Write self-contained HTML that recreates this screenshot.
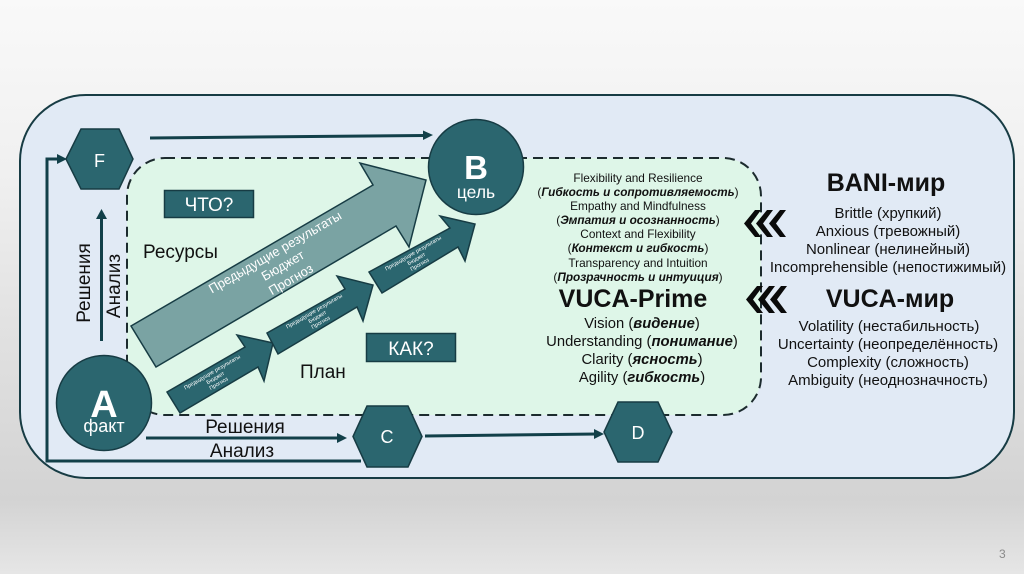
<!DOCTYPE html>
<html><head><meta charset="utf-8"><style>
html,body{margin:0;padding:0;background:#eee}
svg{display:block}
text{font-family:"Liberation Sans",sans-serif;fill:#111}
.w{fill:#fff}.m{text-anchor:middle}
.b{font-weight:bold}
.bi{font-weight:bold;font-style:italic}
</style></head><body>
<svg width="1024" height="574" viewBox="0 0 1024 574" xmlns="http://www.w3.org/2000/svg">
<defs>
<linearGradient id="bg" x1="0" y1="0" x2="0" y2="1">
<stop offset="0" stop-color="#f9f9f9"/><stop offset=".3" stop-color="#f0f0f0"/><stop offset=".6" stop-color="#e0e0e0"/><stop offset=".87" stop-color="#d3d3d3"/><stop offset="1" stop-color="#e6e6e6"/>
</linearGradient>
</defs>
<rect width="1024" height="574" fill="url(#bg)"/>
<rect x="20" y="95" width="994" height="383" rx="66" fill="#e1eaf5" stroke="#173c44" stroke-width="2"/>
<rect x="127" y="158" width="634" height="257" rx="38" fill="#def6e8"/>
<rect x="127" y="158" width="634" height="257" rx="38" fill="none" stroke="#1c2b2e" stroke-width="2" stroke-dasharray="10 6"/>

<!-- connectors -->
<g stroke="#124049" stroke-width="3" fill="none">
<path d="M150 138L424 135.500"/>
<path d="M361 461H47V159H58"/>
<path d="M101.500 341V218"/>
<path d="M146 438H338"/>
<path d="M425 436L597 434"/>
</g>
<g fill="#124049">
<path d="M433 135L423 130.500V140Z"/>
<path d="M67 159L57 154V164Z"/>
<path d="M101.500 209L96 219H107Z"/>
<path d="M347 438L337 433V443Z"/>
<path d="M604 434L594 429V439Z"/>
</g>

<!-- block arrows -->
<polygon points="131,326 373,185 360,163 426,180 409,247 396,226 156,367" fill="#7aa3a3" stroke="#173c44" stroke-width="1.500"/>
<polygon points="167,392 245,347 237,335 273,343 264,381 258,367 180,413" fill="#2b666f" stroke="#173c44" stroke-width="1.500"/>
<polygon points="267,333 345,289 337,276 373,285 363,321 357,307 278,354" fill="#2b666f" stroke="#173c44" stroke-width="1.500"/>
<polygon points="369,272 450,228 440,216 475,224 465,261 458,247 382,293" fill="#2b666f" stroke="#173c44" stroke-width="1.500"/>

<g transform="translate(275 252) rotate(-30)" font-size="13">
<text class="w m" y="4.500">Предыдущие результаты</text>
<text class="w m" y="20">Бюджет</text>
<text class="w m" y="36">Прогноз</text>
</g>
<g transform="translate(212 372) rotate(-30)" font-size="5.500">
<text class="w m" y="2">Предыдущие результаты</text>
<text class="w m" y="8.500">Бюджет</text>
<text class="w m" y="15">Прогноз</text>
</g>
<g transform="translate(314 311) rotate(-30)" font-size="5.500">
<text class="w m" y="2">Предыдущие результаты</text>
<text class="w m" y="8.500">Бюджет</text>
<text class="w m" y="15">Прогноз</text>
</g>
<g transform="translate(413 253) rotate(-30)" font-size="5.500">
<text class="w m" y="2">Предыдущие результаты</text>
<text class="w m" y="8.500">Бюджет</text>
<text class="w m" y="15">Прогноз</text>
</g>

<!-- nodes -->
<g fill="#2b666f" stroke="#173c44" stroke-width="1.500">
<polygon points="81,129 119,129 133,159 119,189 81,189 66,159"/>
<polygon points="367,406 408,406 422,436.500 408,467 367,467 353,436.500"/>
<polygon points="618,402 658,402 672,432 658,462 618,462 604,432"/>
<circle cx="476" cy="167" r="47.500"/>
<circle cx="104" cy="403" r="47.500"/>
<rect x="164.500" y="190.500" width="89" height="27"/>
<rect x="366.500" y="333.500" width="89" height="28"/>
</g>
<text class="w m" x="99.500" y="167" font-size="18">F</text>
<text class="w m" x="387" y="443" font-size="18">C</text>
<text class="w m" x="638" y="439" font-size="18">D</text>
<text class="w m b" x="476" y="179" font-size="33">B</text>
<text class="w m" x="476" y="198" font-size="17.500">цель</text>
<text class="w m b" x="104" y="417" font-size="38">A</text>
<text class="w m" x="104" y="432" font-size="18">факт</text>
<text class="w m" x="209" y="211" font-size="19">ЧТО?</text>
<text class="w m" x="411" y="355" font-size="19">КАК?</text>

<!-- labels -->
<text class="m" x="245" y="433" font-size="19">Решения</text>
<text class="m" x="242" y="457" font-size="19">Анализ</text>
<text class="m" transform="translate(90 283) rotate(-90)" font-size="19">Решения</text>
<text class="m" transform="translate(120 286) rotate(-90)" font-size="19">Анализ</text>
<text x="143" y="258" font-size="19">Ресурсы</text>
<text x="300" y="378" font-size="19">План</text>

<!-- right column -->
<g font-size="11.800">
<text class="m" x="638" y="182">Flexibility and Resilience</text>
<text class="m" x="638" y="196">(<tspan class="bi">Гибкость и сопротивляемость</tspan>)</text>
<text class="m" x="638" y="210">Empathy and Mindfulness</text>
<text class="m" x="638" y="224">(<tspan class="bi">Эмпатия и осознанность</tspan>)</text>
<text class="m" x="638" y="238">Context and Flexibility</text>
<text class="m" x="638" y="252">(<tspan class="bi">Контекст и гибкость</tspan>)</text>
<text class="m" x="638" y="267">Transparency and Intuition</text>
<text class="m" x="638" y="281">(<tspan class="bi">Прозрачность и интуиция</tspan>)</text>
</g>
<text class="m b" x="633" y="307" font-size="25">VUCA-Prime</text>
<g font-size="14.800">
<text class="m" x="642" y="328">Vision (<tspan class="bi">видение</tspan>)</text>
<text class="m" x="642" y="346">Understanding (<tspan class="bi">понимание</tspan>)</text>
<text class="m" x="642" y="364">Clarity (<tspan class="bi">ясность</tspan>)</text>
<text class="m" x="642" y="382">Agility (<tspan class="bi">гибкость</tspan>)</text>
</g>
<text class="m b" x="886" y="191" font-size="25">BANI-мир</text>
<g font-size="15">
<text class="m" x="888" y="218">Brittle (хрупкий)</text>
<text class="m" x="888" y="236">Anxious (тревожный)</text>
<text class="m" x="888" y="254">Nonlinear (нелинейный)</text>
<text class="m" x="888" y="272">Incomprehensible (непостижимый)</text>
</g>
<text class="m b" x="890" y="307" font-size="25">VUCA-мир</text>
<g font-size="15">
<text class="m" x="889" y="331">Volatility (нестабильность)</text>
<text class="m" x="888" y="349">Uncertainty (неопределённость)</text>
<text class="m" x="888" y="367">Complexity (сложность)</text>
<text class="m" x="888" y="385">Ambiguity (неоднозначность)</text>
</g>

<!-- chevrons -->
<g fill="#0a0a0a">
<polygon points="744,223.500 755,210 761,210 751,223.500 761,237 755,237"/>
<polygon points="756,223.500 767,210 773,210 763,223.500 773,237 767,237"/>
<polygon points="769,223.500 780,210 786,210 776,223.500 786,237 780,237"/>
<polygon points="746,299.500 757,286 763,286 753,299.500 763,313 757,313"/>
<polygon points="758,299.500 769,286 775,286 765,299.500 775,313 769,313"/>
<polygon points="770,299.500 781,286 787,286 777,299.500 787,313 781,313"/>
</g>

<text x="999" y="558" font-size="12" style="fill:#8a8a8a">3</text>
</svg>
</body></html>
